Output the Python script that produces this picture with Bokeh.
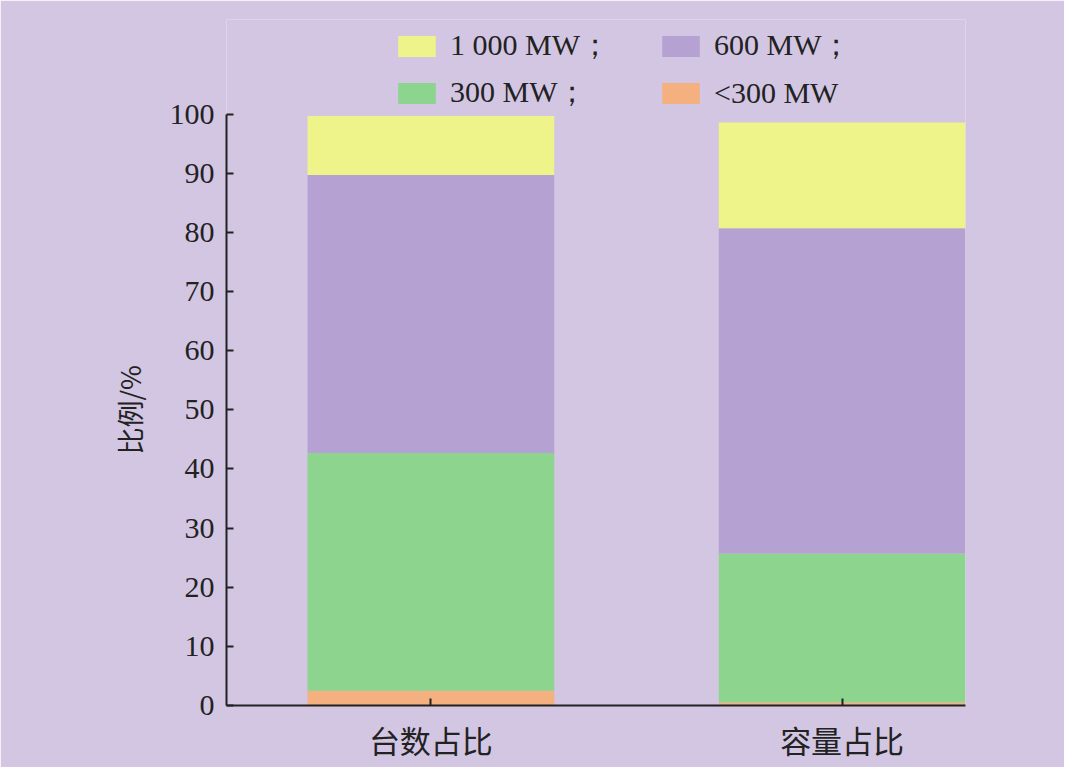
from bokeh.plotting import figure
from bokeh.models import Legend, LegendItem, FixedTicker, ColumnDataSource
from bokeh.embed import file_html
from bokeh.resources import INLINE

categories = ["台数占比", "容量占比"]
series_names = ["<300 MW", "300 MW；", "600 MW；", "1 000 MW；"]
lt300 = [2.5, 0.5]
mw300 = [40.2, 25.2]
mw600 = [47.0, 55.0]
mw1000 = [10.0, 17.9]
y_ticks = [0, 10, 20, 30, 40, 50, 60, 70, 80, 90, 100]

colors = ["#f5b07f", "#8dd48e", "#b6a2d2", "#eef38a"]
bg = "#d3c6e3"

x = list(range(len(categories)))
src = ColumnDataSource(dict(x=x, lt300=lt300, mw300=mw300, mw600=mw600, mw1000=mw1000))

p = figure(width=1064, height=767, output_backend="svg", toolbar_location=None,
           x_range=(-0.497, 1.3), y_range=(0, 116),
           min_border_left=226, min_border_right=99, min_border_top=19, min_border_bottom=62)
p.background_fill_color = bg
p.border_fill_color = bg
p.outline_line_color = None
p.xgrid.visible = False
p.ygrid.visible = False

rs = p.vbar_stack(["lt300", "mw300", "mw600", "mw1000"], x="x", width=0.6, source=src,
                  color=colors, line_color=None)

# axes
for ax in (p.xaxis[0], p.yaxis[0]):
    ax.axis_line_color = "#222222"
    ax.axis_line_width = 2
    ax.major_tick_line_color = "#222222"
    ax.major_tick_line_width = 2
    ax.major_tick_in = 7
    ax.major_tick_out = 0
    ax.minor_tick_line_color = None
    ax.major_label_text_color = "#222222"

p.xaxis.ticker = FixedTicker(ticks=x)
p.xaxis.major_label_overrides = {i: c for i, c in zip(x, categories)}
p.xaxis.major_label_text_font = "Noto Sans CJK SC"
p.xaxis.major_label_text_font_size = "31px"
p.xaxis.major_label_standoff = 11

p.yaxis.ticker = FixedTicker(ticks=y_ticks)
p.yaxis.bounds = (0, 100)
p.yaxis.major_label_text_font = "Liberation Serif"
p.yaxis.major_label_text_font_size = "30px"
p.yaxis.major_label_standoff = 12
p.yaxis.axis_label = "比例/%\u3000\u3000\u3000\u2002"
p.yaxis.axis_label_text_font = "Noto Sans CJK SC"
p.yaxis.axis_label_text_font_style = "normal"
p.yaxis.axis_label_text_font_size = "27px"
p.yaxis.axis_label_text_color = "#222222"
p.yaxis.axis_label_standoff = 18

items = [LegendItem(label=series_names[3], renderers=[rs[3]]),
         LegendItem(label=series_names[2], renderers=[rs[2]]),
         LegendItem(label=series_names[1], renderers=[rs[1]]),
         LegendItem(label=series_names[0], renderers=[rs[0]])]
legend = Legend(items=items, location=(167, 592), orientation="horizontal", ncols=2,
                glyph_width=47, glyph_height=26, label_standoff=10, label_width=201,
                spacing=6, padding=0, margin=0, border_line_color=None,
                background_fill_alpha=0, label_text_font="Liberation Serif",
                label_text_font_size="30px", label_text_color="#222222")
p.add_layout(legend, "center")

open("out.html", "w").write(file_html(p, INLINE))
